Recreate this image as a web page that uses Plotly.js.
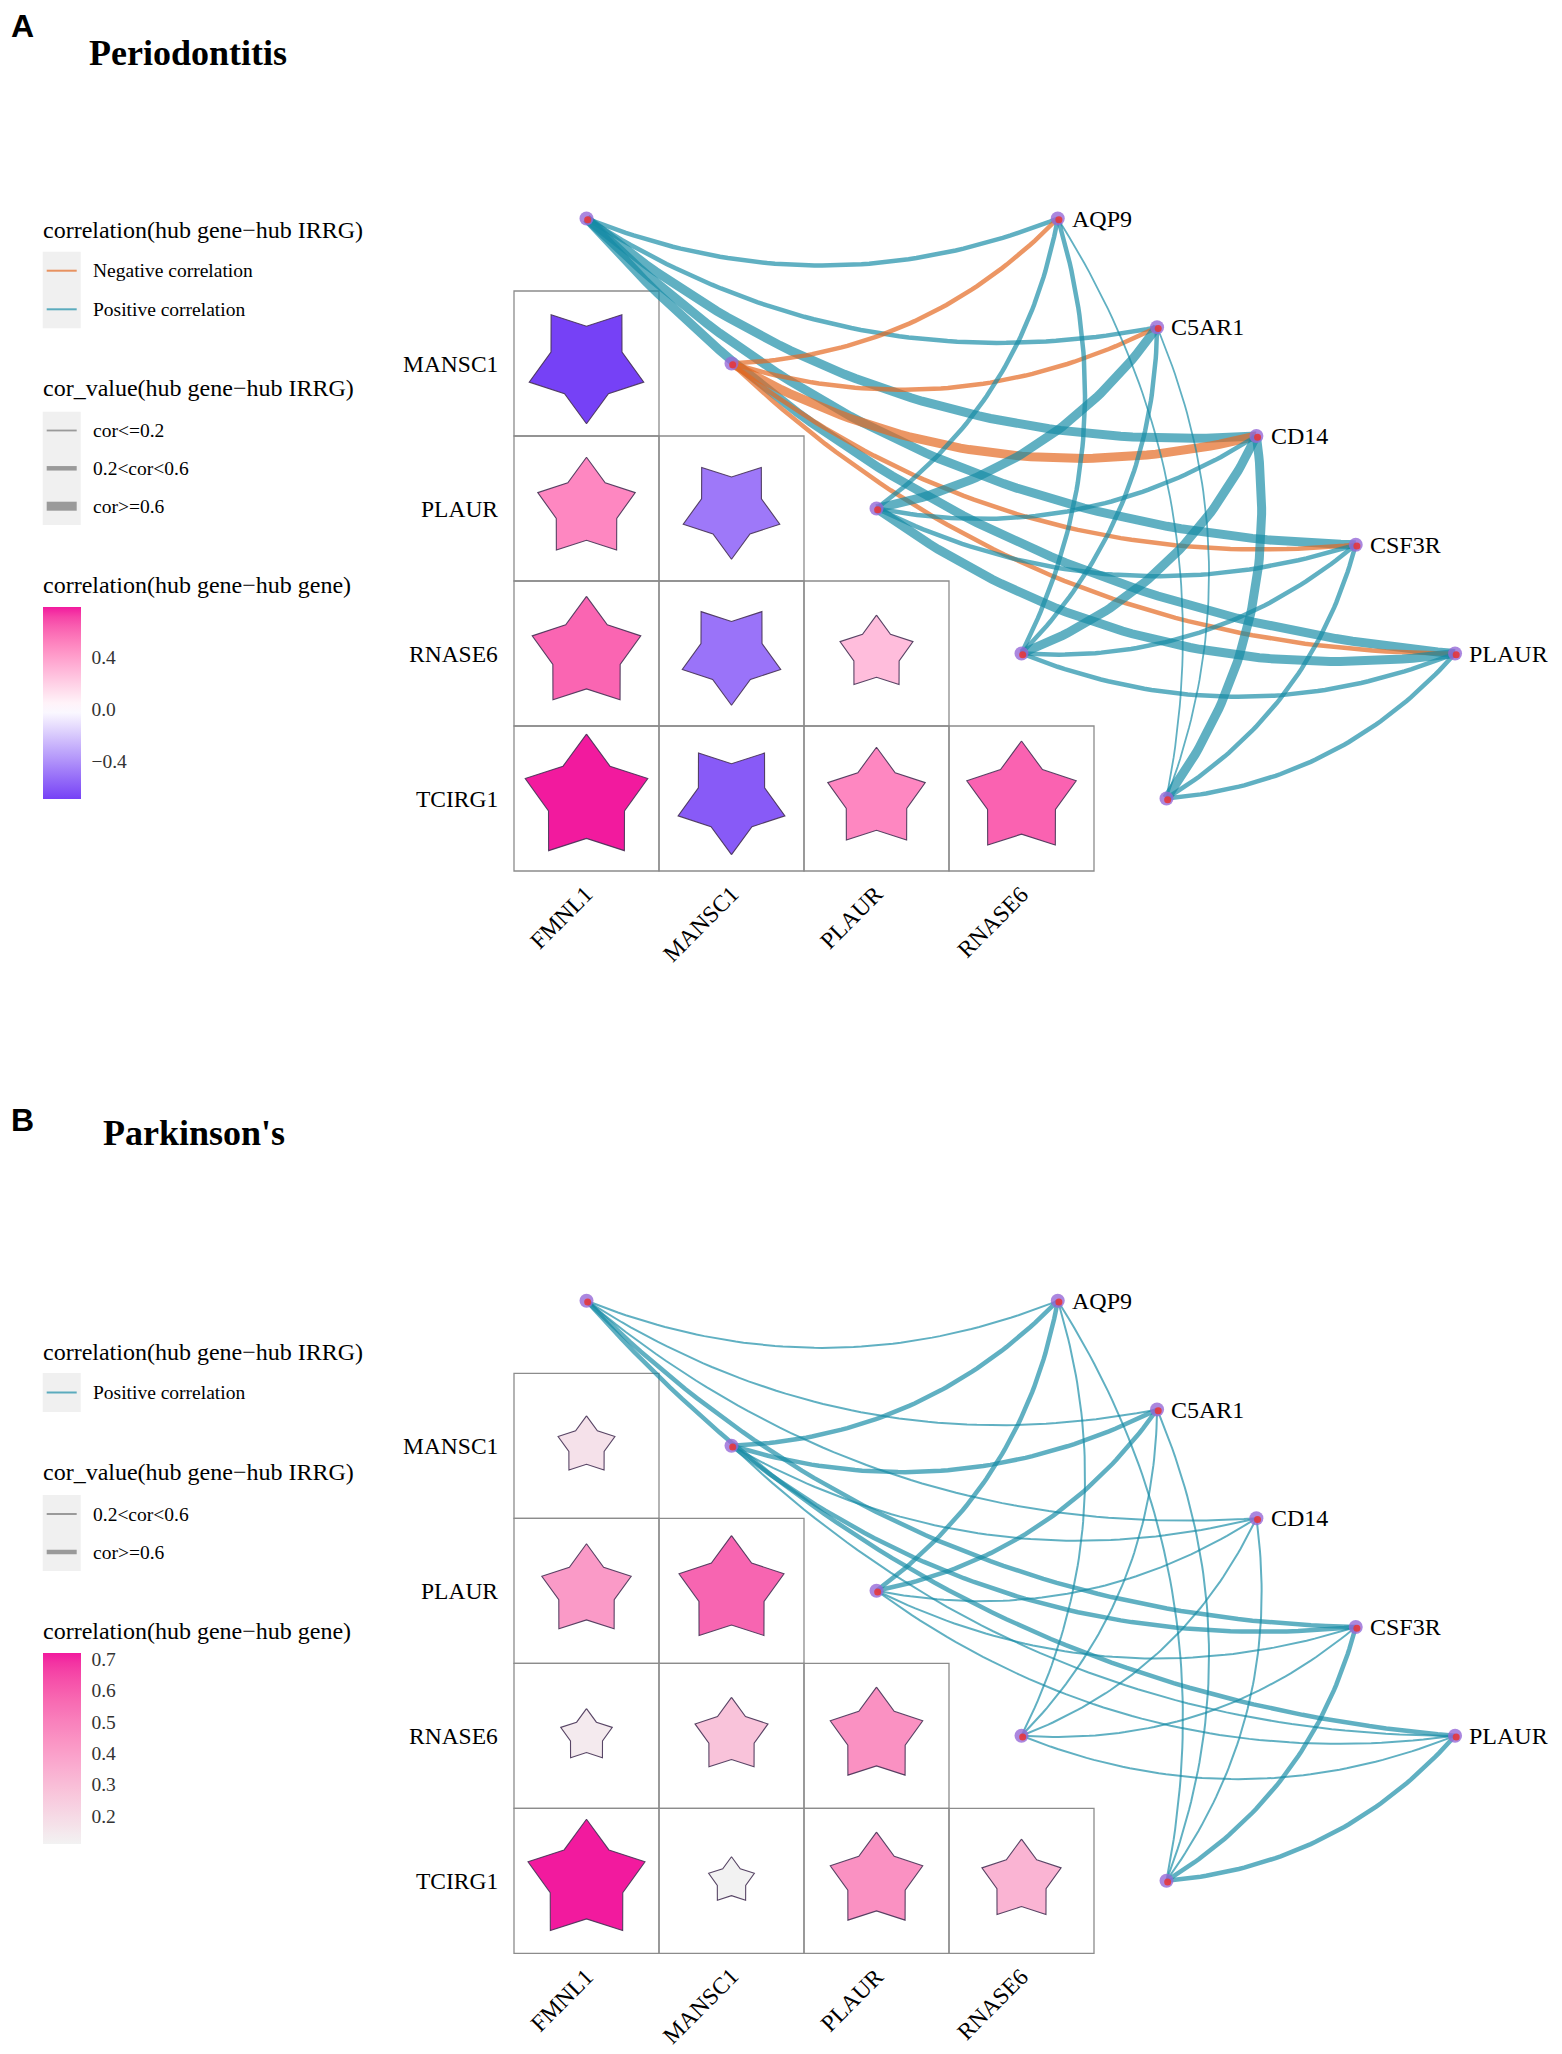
<!DOCTYPE html>
<html><head><meta charset="utf-8">
<script src="https://cdn.plot.ly/plotly-3.0.1.min.js"></script>
<style>html,body{margin:0;padding:0;background:#fff;} #chart{width:1562px;height:2054px;}</style>
</head><body><div id="chart"></div>
<script>
// ================= DATA =================
const hubGenes  = ['FMNL1','MANSC1','PLAUR','RNASE6','TCIRG1'];
const irrgGenes = ['AQP9','C5AR1','CD14','CSF3R','PLAUR'];
const heatRows  = ['MANSC1','PLAUR','RNASE6','TCIRG1'];
const heatCols  = ['FMNL1','MANSC1','PLAUR','RNASE6'];

// hub gene - hub gene correlation (lower triangle), Periodontitis
const periHeatMANSC1 = [-0.69];
const periHeatPLAUR  = [0.50, -0.49];
const periHeatRNASE6 = [0.62, -0.51, 0.28];
const periHeatTCIRG1 = [0.79, -0.60, 0.50, 0.63];
// hub gene - hub gene correlation, Parkinson's
const parkHeatMANSC1 = [0.17];
const parkHeatPLAUR  = [0.42, 0.58];
const parkHeatRNASE6 = [0.14, 0.28, 0.45];
const parkHeatTCIRG1 = [0.72, 0.11, 0.45, 0.33];

// hub gene - hub IRRG correlation (order of irrgGenes), Periodontitis
const periEdgeFMNL1  = [0.45, 0.45, 0.68, 0.66, 0.64];
const periEdgeMANSC1 = [-0.42, -0.45, -0.72, -0.48, -0.44];
const periEdgePLAUR  = [0.40, 0.62, 0.45, 0.42, 0.62];
const periEdgeRNASE6 = [0.42, 0.45, 0.63, 0.40, 0.35];
const periEdgeTCIRG1 = [0.15, 0.18, 0.66, 0.40, 0.45];
// hub gene - hub IRRG correlation, Parkinson's
const parkEdgeFMNL1  = [0.40, 0.35, 0.40, 0.62, 0.60];
const parkEdgeMANSC1 = [0.62, 0.61, 0.40, 0.60, 0.38];
const parkEdgePLAUR  = [0.60, 0.62, 0.35, 0.40, 0.38];
const parkEdgeRNASE6 = [0.35, 0.38, 0.33, 0.36, 0.40];
const parkEdgeTCIRG1 = [0.30, 0.32, 0.35, 0.62, 0.60];

const periTicks = [0.4, 0.0, -0.4];
const periTickText = ['0.4', '0.0', '\u22120.4'];
const parkTicks = [0.7, 0.6, 0.5, 0.4, 0.3, 0.2];
const parkTickText = ['0.7', '0.6', '0.5', '0.4', '0.3', '0.2'];

// ================= LAYOUT CONSTANTS =================
const W = 1562, H = 2054;
const PX0 = 586.5, PY0 = 363.5, CELL = 145;
const OFF_B = 7.464;
const SERIF = 'Liberation Serif, Times New Roman, serif';
const SANS = 'Liberation Sans, Arial, sans-serif';
const HIGH = '#F21A9E', MID = '#FFFFFF', LOW = '#6226F5', MID_B = '#F2F2F2';
const TEAL = 'rgba(21,139,165,0.68)', ORANGE = 'rgba(228,105,34,0.70)';

// ================= COLOUR =================
function hex2rgb(h){h=h.replace('#','');return [0,2,4].map(i=>parseInt(h.substr(i,2),16));}
function s2l(c){c/=255;return c<=0.04045?c/12.92:Math.pow((c+0.055)/1.055,2.4);}
function l2s(c){c=c<=0.0031308?12.92*c:1.055*Math.pow(c,1/2.4)-0.055;return Math.round(Math.max(0,Math.min(1,c))*255);}
function rgb2lab(rgb){const R=s2l(rgb[0]),G=s2l(rgb[1]),B=s2l(rgb[2]);
  const X=(0.4124*R+0.3576*G+0.1805*B)/0.95047,Y=(0.2126*R+0.7152*G+0.0722*B),Z=(0.0193*R+0.1192*G+0.9505*B)/1.08883;
  const f=t=>t>0.008856?Math.cbrt(t):7.787*t+16/116;const fx=f(X),fy=f(Y),fz=f(Z);
  return [116*fy-16,500*(fx-fy),200*(fy-fz)];}
function lab2rgb(lab){const fy=(lab[0]+16)/116,fx=fy+lab[1]/500,fz=fy-lab[2]/200;
  const fi=t=>t*t*t>0.008856?t*t*t:(t-16/116)/7.787;
  const X=fi(fx)*0.95047,Y=fi(fy),Z=fi(fz)*1.08883;
  return [l2s(3.2406*X-1.5372*Y-0.4986*Z),l2s(-0.9689*X+1.8758*Y+0.0415*Z),l2s(0.0557*X-0.2040*Y+1.0570*Z)];}
function mixLab(a,b,t){const A=rgb2lab(hex2rgb(a)),B=rgb2lab(hex2rgb(b));return 'rgb('+lab2rgb([0,1,2].map(k=>A[k]+(B[k]-A[k])*t)).join(',')+')';}
function mixRgb(a,b,t){const A=hex2rgb(a),B=hex2rgb(b);return 'rgb('+[0,1,2].map(k=>Math.round(A[k]+(B[k]-A[k])*t)).join(',')+')';}
// diverging (panel A): midpoint 0
function colDiv(v,vmin,vmax){const M=Math.max(Math.abs(vmin),Math.abs(vmax));const t=Math.max(-1,Math.min(1,v/M));
  return t>=0?mixLab(MID,HIGH,t):mixRgb(MID,LOW,-t);}
// sequential (panel B): data min -> max
function colSeq(v,vmin,vmax){return mixLab(MID_B,HIGH,(v-vmin)/(vmax-vmin));}

// ================= BUILD =================
const traces=[], shapes=[], annotations=[];
function addText(px,py,text,size,opts){annotations.push(Object.assign({xref:'paper',yref:'paper',x:px/W,y:1-py/H,text:text,showarrow:false,xanchor:'left',yanchor:'middle',font:{family:SERIF,size:size,color:'#000'}},opts||{}));}
function hubU(i){return i;} function hubV(i){return i-1;}
function irrgU(j){return 3.25+0.685*j;} function irrgV(j){return -1+0.75*j;}

function starXY(cx,cy,r){const R=0.5*Math.sqrt(Math.abs(r)),ri=R*0.62,inv=r<0;const xs=[],ys=[];
  for(let k=0;k<=10;k++){const a=-Math.PI/2+(k%10)*Math.PI/5;const rad=(k%2===0)?R:ri;let dy=rad*Math.sin(a);if(inv)dy=-dy;xs.push(cx+rad*Math.cos(a));ys.push(cy+dy);}
  return [xs,ys];}

function panel(off,heat,edges,widthFn,colFn,cb){
  const flat=[].concat.apply([],heat);
  const vmin=Math.min.apply(null,flat),vmax=Math.max.apply(null,flat);
  const cu=[],cv=[],cval=[];
  heat.forEach((row,i)=>row.forEach((r,j)=>{
    shapes.push({type:'rect',xref:'x',yref:'y',x0:j-0.5,x1:j+0.5,y0:i-0.5+off,y1:i+0.5+off,line:{color:'#8c8c8c',width:1.3},layer:'below'});
    const s=starXY(j,i+off,r);
    traces.push({type:'scatter',mode:'lines',x:s[0],y:s[1],fill:'toself',fillcolor:colFn(r,vmin,vmax),line:{color:'rgba(70,50,85,0.9)',width:1.1},hoverinfo:'skip',showlegend:false});
    cu.push(j);cv.push(i+off);cval.push(r);
  }));
  // colorbar carrier
  const cs=[];for(let k=0;k<=20;k++){const v=vmin+(vmax-vmin)*k/20;cs.push([k/20,colFn(v,vmin,vmax)]);}
  traces.push({type:'scatter',mode:'markers',x:cu,y:cv,hoverinfo:'skip',showlegend:false,
    marker:{size:1,opacity:0,color:cval,cmin:vmin,cmax:vmax,colorscale:cs,showscale:true,
      colorbar:{x:43/W,xanchor:'left',y:1-cb.top/H,yanchor:'top',len:cb.len,lenmode:'pixels',thickness:38,thicknessmode:'pixels',
        outlinewidth:0,xpad:0,ypad:0,tickvals:cb.ticks,ticktext:cb.text,ticks:'outside',ticklen:7,tickcolor:'rgba(0,0,0,0)',
        tickfont:{family:SERIF,size:19.5,color:'#333'}}}});
  // white inner tick marks on the colour bar
  cb.ticks.forEach(t=>{const py=cb.top+(vmax-t)/(vmax-vmin)*cb.len;const yy=1-py/H;
    shapes.push({type:'line',xref:'paper',yref:'paper',x0:43/W,x1:50/W,y0:yy,y1:yy,line:{color:'#fff',width:1.2}});
    shapes.push({type:'line',xref:'paper',yref:'paper',x0:74/W,x1:81/W,y0:yy,y1:yy,line:{color:'#fff',width:1.2}});});
  // row / column labels
  heatRows.forEach((g,i)=>annotations.push({xref:'x',yref:'y',x:-0.594,y:i+off,text:g,showarrow:false,xanchor:'right',yanchor:'middle',font:{family:SERIF,size:23.5,color:'#000'}}));
  heatCols.forEach((g,j)=>annotations.push({xref:'x',yref:'y',x:j+0.1,y:3.55+off,text:g,showarrow:false,xanchor:'right',yanchor:'top',textangle:-45,font:{family:SERIF,size:23.5,color:'#000'}}));
  // edges
  edges.forEach((row,i)=>row.forEach((r,j)=>{
    const x0=hubU(i),y0=hubV(i)+off,x2=irrgU(j),y2=irrgV(j)+off;
    const dx=x2-x0,dy=y2-y0,k=0.2;
    const x1=(x0+x2)/2-dy*k,y1=(y0+y2)/2+dx*k;
    const xs=[],ys=[];for(let n=0;n<=60;n++){const t=n/60,a=(1-t)*(1-t),b=2*t*(1-t),c=t*t;xs.push(a*x0+b*x1+c*x2);ys.push(a*y0+b*y1+c*y2);}
    traces.push({type:'scatter',mode:'lines',x:xs,y:ys,line:{color:r<0?ORANGE:TEAL,width:widthFn(Math.abs(r))},hoverinfo:'skip',showlegend:false});
  }));
  // nodes
  const nu=[],nv=[];
  hubGenes.forEach((g,i)=>{nu.push(hubU(i));nv.push(hubV(i)+off);});
  irrgGenes.forEach((g,j)=>{nu.push(irrgU(j));nv.push(irrgV(j)+off);
    annotations.push({xref:'x',yref:'y',x:irrgU(j)+0.085,y:irrgV(j)+off,text:g,showarrow:false,xanchor:'left',yanchor:'middle',font:{family:SERIF,size:24,color:'#000'}});});
  traces.push({type:'scatter',mode:'markers',x:nu,y:nv,hoverinfo:'skip',showlegend:false,marker:{size:14,color:'rgba(150,105,215,0.8)',line:{width:0}}});
  traces.push({type:'scatter',mode:'markers',x:nu.map(v=>v+0.008),y:nv.map(v=>v+0.008),hoverinfo:'skip',showlegend:false,marker:{size:7,color:'rgba(228,55,60,0.9)',line:{width:0}}});
}

const periHeat=[periHeatMANSC1,periHeatPLAUR,periHeatRNASE6,periHeatTCIRG1];
const parkHeat=[parkHeatMANSC1,parkHeatPLAUR,parkHeatRNASE6,parkHeatTCIRG1];
const periEdges=[periEdgeFMNL1,periEdgeMANSC1,periEdgePLAUR,periEdgeRNASE6,periEdgeTCIRG1];
const parkEdges=[parkEdgeFMNL1,parkEdgeMANSC1,parkEdgePLAUR,parkEdgeRNASE6,parkEdgeTCIRG1];

panel(0,periHeat,periEdges,a=>a<=0.2?1.8:(a<0.6?4.5:9),colDiv,{top:607,len:192,ticks:periTicks,text:periTickText});
panel(OFF_B,parkHeat,parkEdges,a=>a<0.6?2:4.5,colSeq,{top:1653,len:191,ticks:parkTicks,text:parkTickText});

// ================= LEGENDS & TITLES =================
function keyBox(y0,y1){shapes.push({type:'rect',xref:'paper',yref:'paper',x0:42.7/W,x1:80.7/W,y0:1-y1/H,y1:1-y0/H,fillcolor:'#F0F0F0',line:{width:0},layer:'below'});}
function keyLine(py,color,w){shapes.push({type:'line',xref:'paper',yref:'paper',x0:46.7/W,x1:76.7/W,y0:1-py/H,y1:1-py/H,line:{color:color,width:w}});}
const GREY='rgba(125,125,125,0.75)';

// Panel A
addText(9,26,'<b>A</b>',32,{font:{family:SANS,size:32,color:'#000'}});
addText(87,53,'<b>Periodontitis</b>',36);
addText(41,230,'correlation(hub gene\u2212hub IRRG)',24);
keyBox(251.7,328.3);
keyLine(270.7,ORANGE,2);addText(91,270.7,'Negative correlation',19.5);
keyLine(309.3,TEAL,2);addText(91,309.3,'Positive correlation',19.5);
addText(41,388.3,'cor_value(hub gene\u2212hub IRRG)',24);
keyBox(411.7,525);
keyLine(430.5,GREY,1.8);addText(91,430.5,'cor&lt;=0.2',19.5);
keyLine(468.3,GREY,4.5);addText(91,468.3,'0.2&lt;cor&lt;0.6',19.5);
keyLine(506.2,GREY,9);addText(91,506.2,'cor&gt;=0.6',19.5);
addText(41,585,'correlation(hub gene\u2212hub gene)',24);

// Panel B
addText(9,1120,'<b>B</b>',32,{font:{family:SANS,size:32,color:'#000'}});
addText(101,1133,'<b>Parkinson\'s</b>',36);
addText(41,1352,'correlation(hub gene\u2212hub IRRG)',24);
keyBox(1373,1412);
keyLine(1392.5,TEAL,2);addText(91,1392.5,'Positive correlation',19.5);
addText(41,1472,'cor_value(hub gene\u2212hub IRRG)',24);
keyBox(1495,1571);
keyLine(1514,GREY,2);addText(91,1514,'0.2&lt;cor&lt;0.6',19.5);
keyLine(1552,GREY,4.5);addText(91,1552,'cor&gt;=0.6',19.5);
addText(41,1631,'correlation(hub gene\u2212hub gene)',24);

const layout={width:W,height:H,margin:{l:0,r:0,t:0,b:0},paper_bgcolor:'#fff',plot_bgcolor:'#fff',showlegend:false,
  xaxis:{range:[-PX0/CELL,(W-PX0)/CELL],visible:false,fixedrange:true},
  yaxis:{range:[(H-PY0)/CELL,-PY0/CELL],visible:false,fixedrange:true},
  shapes:shapes,annotations:annotations};
Plotly.newPlot('chart',traces,layout,{staticPlot:true,displayModeBar:false});
</script></body></html>
